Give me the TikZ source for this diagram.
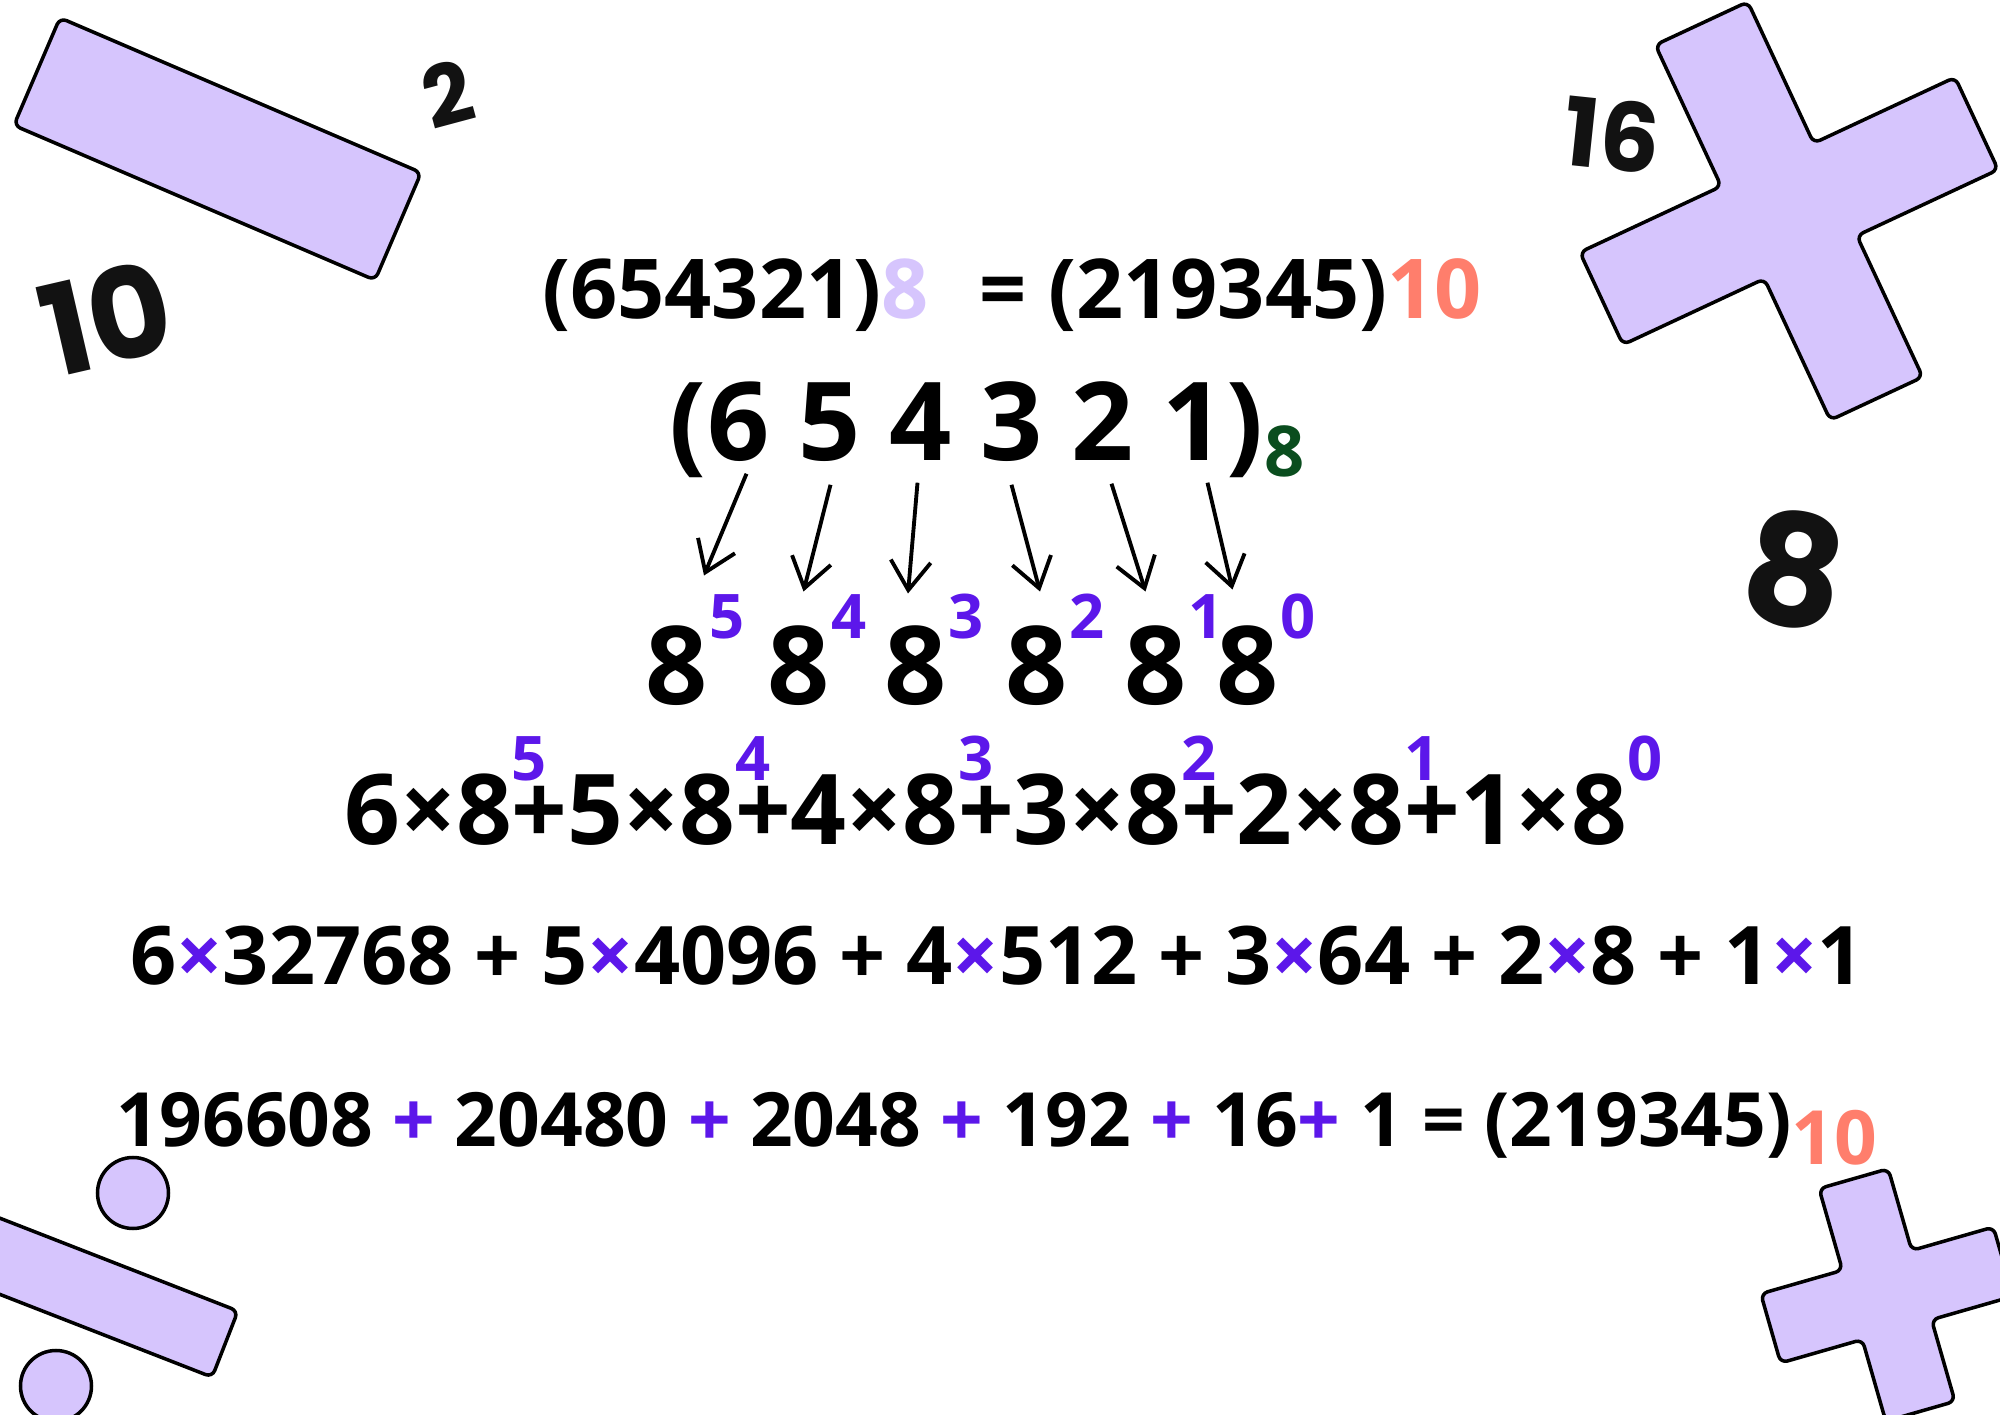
\documentclass[tikz,border=0pt]{standalone}
\usepackage{fontspec}
\setmainfont{Open Sans}
\newfontfamily\decofont{Poppins}
\usetikzlibrary{arrows.meta}
\definecolor{lav}{HTML}{D6C5FD}
\definecolor{exppurple}{HTML}{5C17EA}
\definecolor{salmon}{HTML}{FF7E6C}
\definecolor{basegreen}{HTML}{0A4D1E}
\newcommand{\upexp}[1]{\rlap{\raisebox{0.64cm}{\fontsize{17.5pt}{17.5pt}\selectfont\color{exppurple}#1}}}
\newcommand{\tmul}{\textcolor{exppurple}{×}}
\newcommand{\tplus}{\textcolor{exppurple}{+}}
\tikzset{
	shapefill/.style={draw=black,fill=lav,line width=1pt,rounded corners=2pt,line join=round},
	numtext/.style={inner sep=0pt,anchor=base,font=\bfseries\fontsize{#1}{#1}\selectfont},
	decotext/.style={inner sep=0pt,text=black!93,font=\decofont\bfseries\fontsize{#1}{#1}\selectfont},
	expo/.style={inner sep=0pt,anchor=base west,text=exppurple,font=\bfseries\fontsize{17.5pt}{17.5pt}\selectfont},
	numarrow/.style={line width=1.1pt,-{Straight Barb[length=2.9mm,width=4mm]}}
}

\begin{document}
\begin{tikzpicture}
	\useasboundingbox (0,0) rectangle (20,14.14);
	\clip (0,0) rectangle (20,14.14);
	% shapes
	\draw[shapefill,rotate around={-23.2:(2.175,12.65)}] (0.21,12.065) rectangle (4.14,13.235);
	\draw[shapefill,rotate around={-21.3:(0.62,1.335)}] (-1.13,0.98) rectangle (2.37,1.69);
	\draw[shapefill] (1.33,2.21) circle (0.355);
	\draw[shapefill] (0.56,0.28) circle (0.355);
	\begin{scope}[shift={(17.89,12.03)},rotate=25]
		\def\a{2.07};
		\def\b{0.51};
		\draw[shapefill] (-\b,\a) -- (\b,\a) -- (\b,\b) -- (\a,\b) -- (\a,-\b) -- (\b,-\b) -- (\b,-\a)
			-- (-\b,-\a) -- (-\b,-\b) -- (-\a,-\b) -- (-\a,\b) -- (-\b,\b) -- cycle;
	\end{scope}
	\begin{scope}[shift={(18.87,1.19)},rotate=16]
		\def\a{1.21};
		\def\b{0.36};
		\draw[shapefill] (-\b,\a) -- (\b,\a) -- (\b,\b) -- (\a,\b) -- (\a,-\b) -- (\b,-\b) -- (\b,-\a)
			-- (-\b,-\a) -- (-\b,-\b) -- (-\a,-\b) -- (-\a,\b) -- (-\b,\b) -- cycle;
	\end{scope}
	% corner numbers
	\node[decotext=24pt,rotate=15] (two) at (4.48,13.2) {2};
	\node[decotext=36pt,rotate=13] (ten) at (1.06,10.96) {10};
	\node[decotext=27pt,rotate=-6] (sixteen) at (16.12,12.79) {16};
	\node[decotext=44pt,rotate=-10] (eight) at (17.95,8.44) {8};
	% first line
	\node[numtext=23.5pt] (top) at (10.12,10.95) {(654321)\textcolor{lav}{8}\hspace{0.3cm} = (219345)\textcolor{salmon}{10}};
	% digits and powers
	\foreach \d [count=\i] in {6,5,4,3,2,1}
		\node[numtext=31pt] (d\i) at ({7.385+(\i-1)*0.91},9.53) {\d};
	\node[numtext=31pt,anchor=base east] (lpar) at (d1.base west) {(};
	\node[numtext=31pt,anchor=base west] (rpar) at (d6.base east) {)};
	\node[numtext=20pt,anchor=base west,text=basegreen] (base) at ([yshift=-0.16cm]rpar.base east) {8};
	\foreach \x [count=\i] in {6.77,7.985,9.16,10.37,11.555,12.475}
		\node[numtext=31pt] (e\i) at (\x,7.09) {8};
	\foreach \i/\p in {1/5,2/4,3/3,4/2,5/1,6/0}
		\node[expo] (s\i) at ([yshift=0.66cm]e\i.base east) {\p};
	\foreach \i/\sx/\sy/\ex/\ey in {1/0.08/-0.11/0.27/0.50,2/0.01/-0.22/0.05/0.34,3/-0.03/-0.21/-0.08/0.32,
		4/0/-0.22/0.03/0.34,5/0.09/-0.22/-0.10/0.34,6/0.14/-0.21/-0.15/0.36}
		\draw[numarrow] ([shift={(\sx,\sy)}]d\i.south) -- ([shift={(\ex,\ey)}]e\i.north);
	% expansion
	\node[numtext=27.8pt] (sum) at (9.86,5.69) {6×8\upexp{5}+5×8\upexp{4}+4×8\upexp{3}+3×8\upexp{2}+2×8\upexp{1}+1×8\upexp{0}};
	\node[numtext=23pt] (prod) at (9.97,4.29) {6\tmul32768 + 5\tmul4096 + 4\tmul512 + 3\tmul64 + 2\tmul8 + 1\tmul1};
	\node[numtext=21.3pt] (res) at (9.97,2.67) {196608 \tplus{} 20480 \tplus{} 2048 \tplus{} 192 \tplus{} 16\tplus{} 1 = (219345)\raisebox{-0.18cm}{\color{salmon}10}};
\end{tikzpicture}
\end{document}
